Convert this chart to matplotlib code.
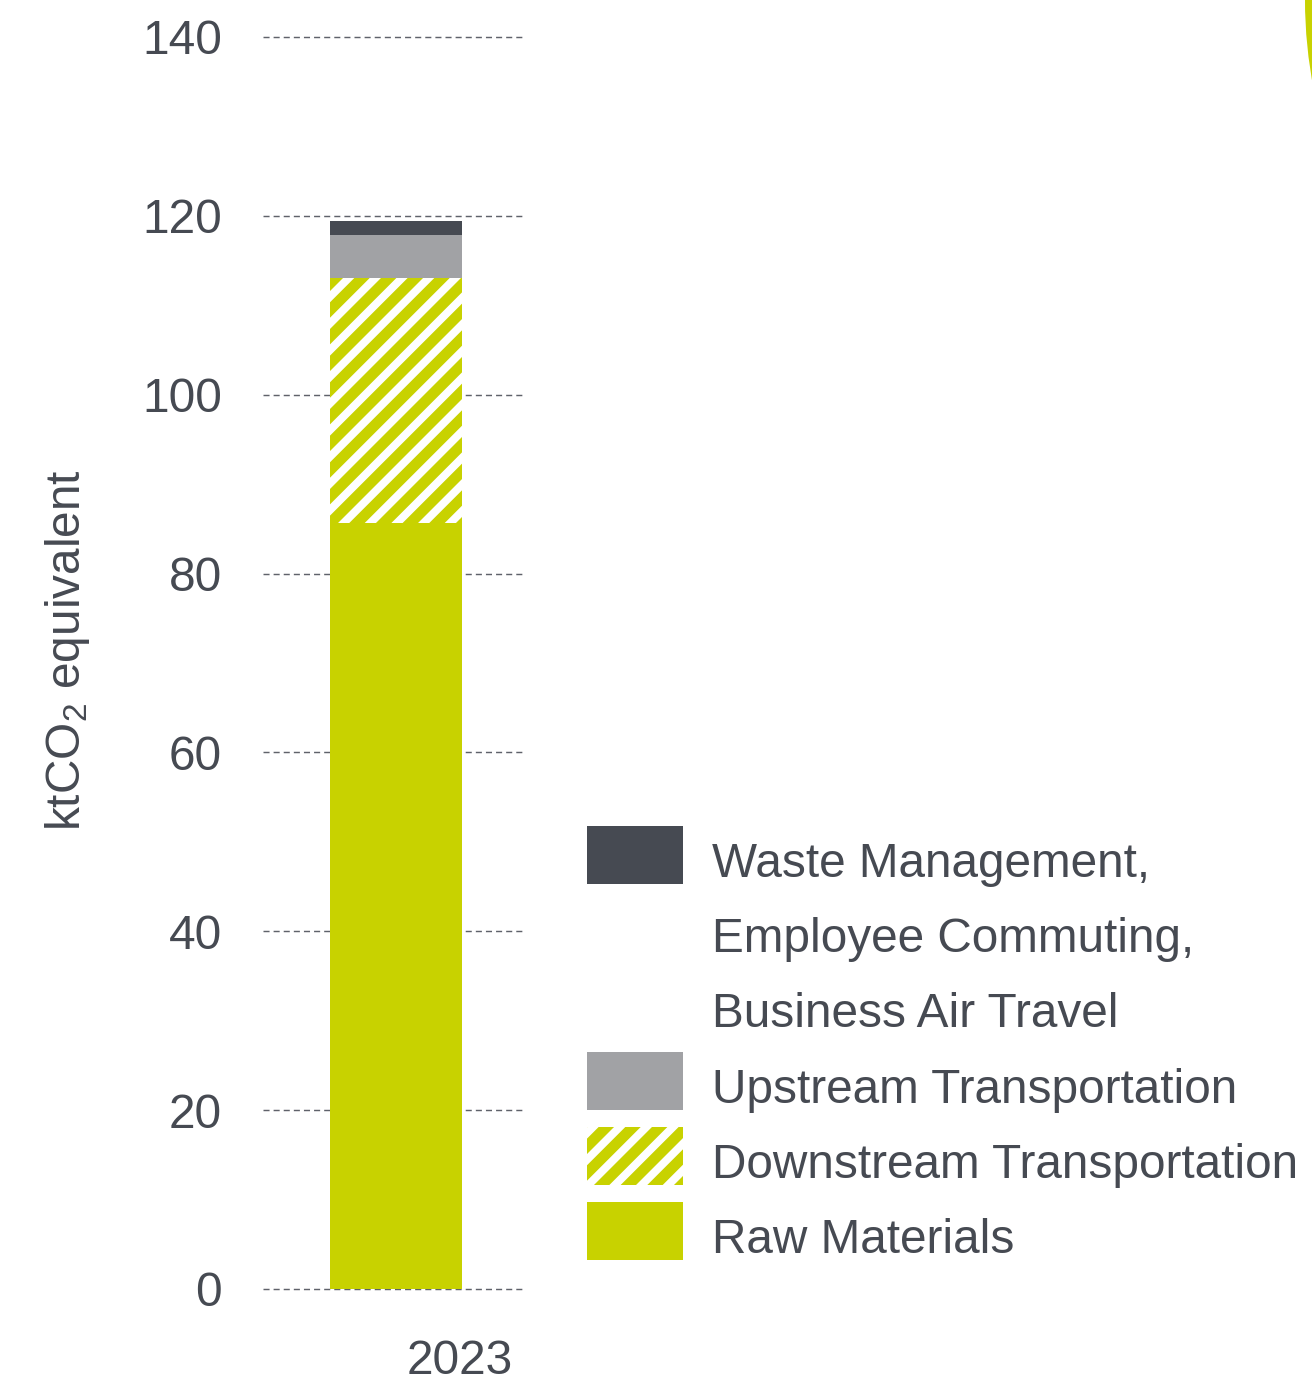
import matplotlib
matplotlib.use("Agg")
import matplotlib.pyplot as plt
from matplotlib.patches import Rectangle, Ellipse

plt.rcParams["font.family"] = ["Liberation Sans", "DejaVu Sans"]
plt.rcParams["mathtext.default"] = "regular"
plt.rcParams["hatch.linewidth"] = 4.9

# Scope 3 emissions by category, ktCO2 equivalent
years = ["2023"]
raw_materials = [85.7]
downstream_transport = [27.4]
upstream_transport = [4.8]
waste_commuting_travel = [1.5]

series_labels = [
    "Waste Management,\nEmployee Commuting,\nBusiness Air Travel",
    "Upstream Transportation",
    "Downstream Transportation",
    "Raw Materials",
]
y_ticks = [0, 20, 40, 60, 80, 100, 120, 140]

GREEN = "#c8d200"
GRAY = "#a1a2a5"
DARK = "#464a52"
TEXT = "#464a52"
GRID = "#5f626a"

W, H, DPI = 1312, 1386, 160
fig = plt.figure(figsize=(W / DPI, H / DPI), dpi=DPI)


def fx(px):
    return px / W


def fy(py):
    return 1 - py / H


ax = fig.add_axes([fx(263), fy(1289), fx(525) - fx(263), fy(37) - fy(1289)])
ax.set_xlim(-0.508, 0.492)
ax.set_ylim(0, 140)

x = list(range(len(years)))
bw = 0.504

bottom = [0.0] * len(years)
ax.bar(x, raw_materials, bw, bottom=bottom, color=GREEN, linewidth=0, zorder=2)
bottom = [b + v for b, v in zip(bottom, raw_materials)]
ax.bar(x, downstream_transport, bw, bottom=bottom, facecolor="white",
       edgecolor=GREEN, hatch="//", linewidth=0, zorder=2)
bottom = [b + v for b, v in zip(bottom, downstream_transport)]
ax.bar(x, upstream_transport, bw, bottom=bottom, color=GRAY, linewidth=0, zorder=2)
bottom = [b + v for b, v in zip(bottom, upstream_transport)]
ax.bar(x, waste_commuting_travel, bw, bottom=bottom, color=DARK, linewidth=0, zorder=2)

ax.set_yticks(y_ticks)
ax.set_yticklabels([str(t) for t in y_ticks])
ax.tick_params(axis="y", length=0, pad=18.5, labelsize=21.5, labelcolor=TEXT)
ax.set_xticks([])
for s in ax.spines.values():
    s.set_visible(False)
ax.yaxis.grid(True, color=GRID, linestyle=(0, (4.2, 2.8)), linewidth=0.65, zorder=0)
ax.set_axisbelow(True)
for gl in ax.get_ygridlines():
    gl.set_clip_on(False)

for xi, yr in zip(x, years):
    ax.annotate(yr, xy=(xi, 0), xytext=(28.8, -32.8), textcoords="offset points",
                ha="center", va="center", fontsize=21.5, color=TEXT)

# y-axis title
fig.text(fx(68), fy(650), "ktCO$_2$ equivalent", rotation=90, fontsize=21.5, color=TEXT,
         ha="center", va="center")

# legend with swatch aligned to the first line of each entry
styles = [
    dict(facecolor=DARK, linewidth=0),
    dict(facecolor=GRAY, linewidth=0),
    dict(facecolor="white", edgecolor=GREEN, hatch="//", linewidth=0),
    dict(facecolor=GREEN, linewidth=0),
]
rows = [0, 3, 4, 5]
pitch = 75.2
for lab, st, r in zip(series_labels, styles, rows):
    top = 826 + r * pitch
    fig.patches.append(Rectangle((fx(587), fy(top + 58)), fx(683) - fx(587), fy(top) - fy(top + 58),
                                 transform=fig.transFigure, **st))
    for k, line in enumerate(lab.split("\n")):
        fig.text(fx(712), fy(top + 51 + k * pitch), line, fontsize=21.5, color=TEXT,
                 ha="left", va="baseline")

# decorative arc in the top-right corner
R = 460.6
fig.patches.append(Ellipse((fx(1765.6), fy(0)), 2 * R / W, 2 * R / H, transform=fig.transFigure,
                           facecolor=GREEN, linewidth=0))

fig.savefig("out.png", dpi=DPI)
